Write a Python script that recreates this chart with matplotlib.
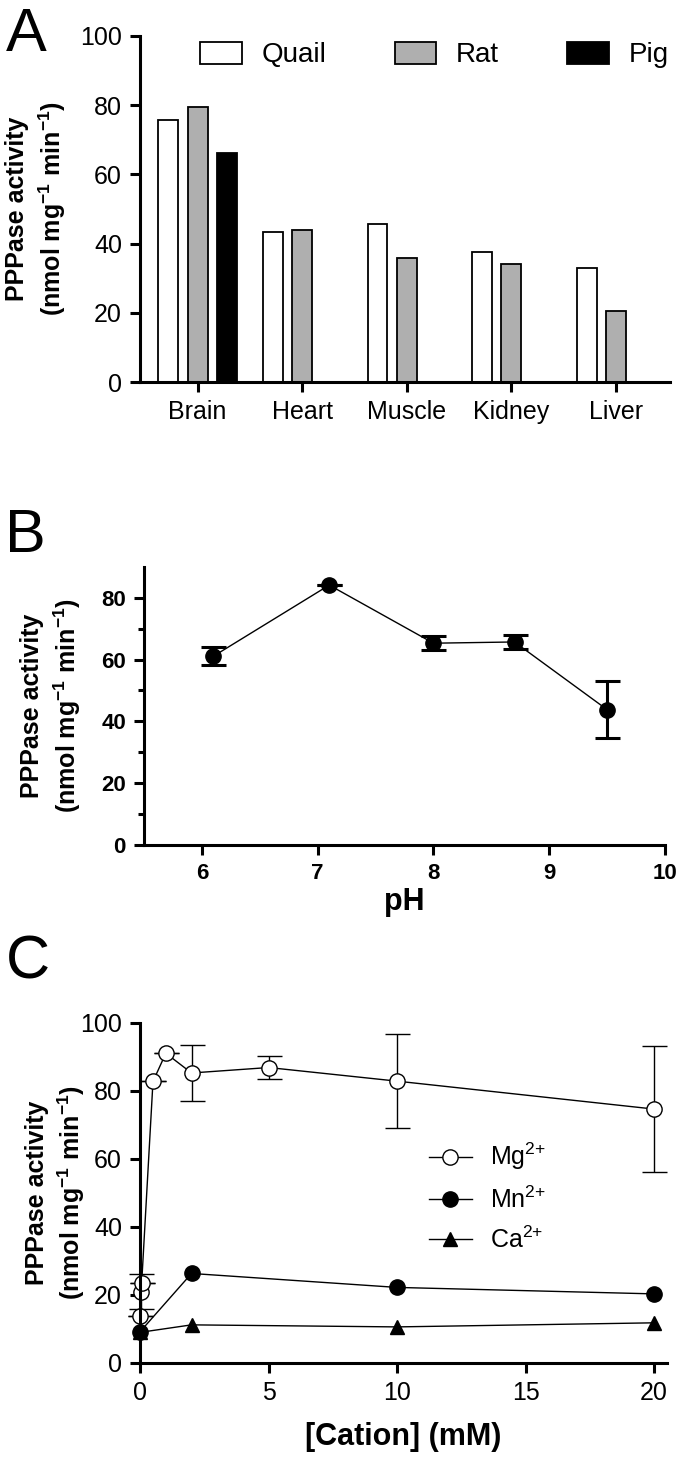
import numpy as np
import matplotlib.pyplot as plt

plt.rcParams['font.family'] = ['Liberation Sans', 'DejaVu Sans']
plt.rcParams['mathtext.fontset'] = 'custom'
plt.rcParams['mathtext.rm'] = 'Liberation Sans'
plt.rcParams['mathtext.bf'] = 'Liberation Sans:bold'

# Panel A: activity per tissue
tissues = ['Brain', 'Heart', 'Muscle', 'Kidney', 'Liver']
quail = [75.8, 43.3, 45.7, 37.5, 32.9]
rat = [79.6, 43.9, 35.7, 34.0, 20.6]
pig = [66.1, 0, 0, 0, 0]

# Panel B: pH dependence
ph = [6.1, 7.1, 8.0, 8.7, 9.5]
ph_act = [61.1, 84.1, 65.3, 65.7, 43.8]
ph_err = [2.9, 0, 2.2, 2.3, 9.2]

# Panel C: cation dependence
mg_x = [0, 0.03, 0.06, 0.5, 1, 2, 5, 10, 20]
mg_y = [13.8, 21.0, 23.5, 82.7, 91.0, 85.2, 86.8, 82.8, 74.6]
mg_err = [0, 5.2, 0, 0, 0, 8.2, 3.5, 13.8, 18.5]
mn_x = [0, 2, 10, 20]
mn_y = [9.2, 26.3, 22.2, 20.3]
ca_x = [0, 2, 10, 20]
ca_y = [9.0, 11.2, 10.6, 11.8]

ylab = 'PPPase activity\n(nmol mg$^{\\mathbf{-1}}$ min$^{\\mathbf{-1}}$)'

fig = plt.figure(figsize=(6.77, 14.64), dpi=100)


def style(ax, lw=2.2):
    for s in ['top', 'right']:
        ax.spines[s].set_visible(False)
    for s in ['left', 'bottom']:
        ax.spines[s].set_linewidth(lw)
    ax.tick_params(direction='out', width=lw, length=7, pad=6)


# ---- A
axA = fig.add_axes([0.207, 0.739, 0.783, 0.2365])
x = np.arange(len(tissues))
w = 0.19
off = 0.28
axA.bar(x - off, quail, w, color='white', edgecolor='black', linewidth=1.3, label='Quail')
axA.bar(x, rat, w, color='#afafaf', edgecolor='black', linewidth=1.3, label='Rat')
axA.bar(x + off, pig, w, color='black', edgecolor='black', linewidth=1.3, label='Pig')
axA.set_xlim(-0.55, 4.52)
axA.set_ylim(0, 100)
axA.set_yticks([0, 20, 40, 60, 80, 100])
axA.set_xticks(x)
axA.set_xticklabels(tissues)
style(axA)
axA.tick_params(labelsize=18)
axA.set_ylabel(ylab, fontsize=18, fontweight='bold', linespacing=1.3)
axA.yaxis.set_label_coords(-0.136, 0.5)
axA.legend(loc='center right', ncol=3, frameon=False, fontsize=20,
           handlelength=1.5, handleheight=0.86, handletextpad=0.72,
           columnspacing=2.45, bbox_to_anchor=(1.045, 0.945))
fig.text(0.008, 0.995, 'A', fontsize=44, va='top')

# ---- B
axB = fig.add_axes([0.2127, 0.4228, 0.7696, 0.19])
axB.errorbar(ph, ph_act, yerr=ph_err, fmt='o-', color='black', ms=11,
             lw=1.0, elinewidth=2.2, capsize=9, capthick=2.2, clip_on=False)
axB.set_xlim(5.5, 10)
axB.set_ylim(0, 90)
axB.set_yticks([0, 20, 40, 60, 80])
axB.set_yticks([10, 30, 50, 70], minor=True)
axB.set_xticks([6, 7, 8, 9, 10])
style(axB)
axB.tick_params(which='minor', width=2.2, length=4)
axB.tick_params(labelsize=16)
for t in axB.get_xticklabels() + axB.get_yticklabels():
    t.set_fontweight('bold')
axB.set_xlabel('pH', fontsize=22, fontweight='bold', labelpad=2)
axB.set_ylabel(ylab, fontsize=18, fontweight='bold', linespacing=1.3)
axB.yaxis.set_label_coords(-0.117, 0.5)
fig.text(0.008, 0.653, 'B', fontsize=44, va='top')

# ---- C
axC = fig.add_axes([0.207, 0.069, 0.778, 0.2325])
mg = axC.errorbar(mg_x, mg_y, yerr=mg_err, fmt='o-', color='black', mfc='white',
                  ms=11, lw=1.0, elinewidth=1.0, capsize=9, capthick=1.0,
                  clip_on=False)
mn, = axC.plot(mn_x, mn_y, 'o-', color='black', ms=11, lw=1.0, clip_on=False)
ca, = axC.plot(ca_x, ca_y, '^-', color='black', ms=10, lw=1.0, clip_on=False)
axC.set_xlim(0, 20.5)
axC.set_ylim(0, 100)
axC.set_xticks([0, 5, 10, 15, 20])
axC.set_yticks([0, 20, 40, 60, 80, 100])
style(axC)
axC.tick_params(labelsize=18)
axC.set_xlabel('[Cation] (mM)', fontsize=22, fontweight='bold', labelpad=12)
axC.set_ylabel(ylab, fontsize=18, fontweight='bold', linespacing=1.3)
axC.yaxis.set_label_coords(-0.10, 0.5)
axC.legend([mg.lines[0], mn, ca], ['Mg$^{2{+}}$', 'Mn$^{2{+}}$', 'Ca$^{2{+}}$'],
           loc='center left', bbox_to_anchor=(0.506, 0.488), frameon=False,
           fontsize=18, handlelength=1.7, labelspacing=0.55, handletextpad=0.72)
fig.text(0.008, 0.362, 'C', fontsize=44, va='top')

plt.savefig('out.png', dpi=100)
